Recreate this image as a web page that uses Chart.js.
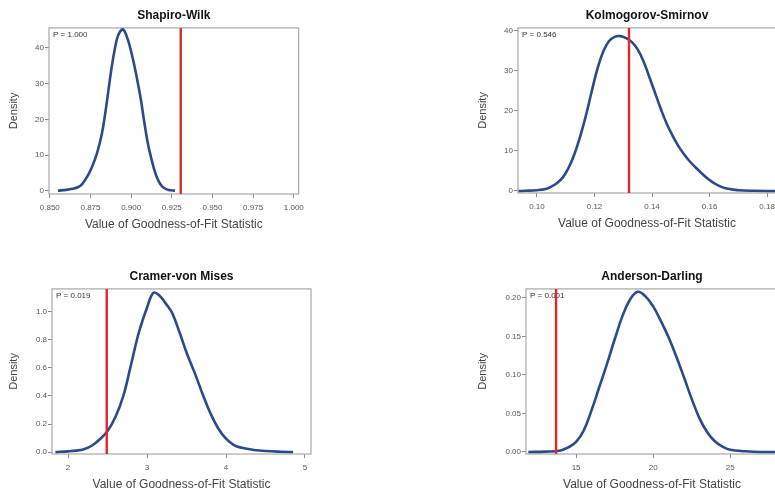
<!DOCTYPE html>
<html>
<head>
<meta charset="utf-8">
<script src="https://cdn.jsdelivr.net/npm/chart.js@4.4.0/dist/chart.umd.min.js"></script>
<style>
  html, body { margin: 0; padding: 0; background: #fff; overflow: hidden; }
  body { width: 775px; height: 496px; position: relative; }
  canvas { position: absolute; }
</style>
</head>
<body>
<canvas id="swChart" width="309" height="236" style="left:0px;top:0px"></canvas>
<canvas id="ksChart" width="313" height="235" style="left:469px;top:0px"></canvas>
<canvas id="cvmChart" width="317" height="235" style="left:0px;top:261px"></canvas>
<canvas id="adChart" width="315" height="235" style="left:469px;top:261px"></canvas>
<script>
// Shapiro-Wilk
const swX = [0.855, 0.860, 0.864, 0.8675, 0.870, 0.873, 0.876, 0.879, 0.882, 0.884, 0.886, 0.888, 0.890, 0.892, 0.8945,
  0.896, 0.898, 0.900, 0.902, 0.904, 0.906, 0.908, 0.910, 0.912, 0.914, 0.916, 0.918, 0.920, 0.923, 0.927];
const swY = [0.1, 0.3, 0.6, 1.1, 2.0, 4.0, 6.8, 10.5, 16.0, 21.5, 28.0, 34.5, 39.8, 43.5, 45.2,
  44.6, 42.3, 39.0, 35.0, 30.5, 25.5, 19.5, 14.0, 9.8, 6.3, 3.6, 1.9, 0.9, 0.3, 0.1];
const swTicksX = [0.85, 0.875, 0.9, 0.925, 0.95, 0.975, 1.0];
const swTicksY = [0, 10, 20, 30, 40];
const swObserved = 0.9305;
const swP = "P = 1.000";

// Kolmogorov-Smirnov
const ksX = [0.0936, 0.096, 0.100, 0.103, 0.105, 0.107, 0.109, 0.111, 0.113, 0.115, 0.117, 0.119, 0.121, 0.123, 0.125,
  0.127, 0.129, 0.131, 0.133, 0.135, 0.137, 0.139, 0.141, 0.143, 0.145, 0.147, 0.149, 0.151, 0.153, 0.155,
  0.157, 0.159, 0.161, 0.163, 0.166, 0.170, 0.175, 0.183];
const ksY = [0.0, 0.05, 0.2, 0.5, 1.1, 2.0, 3.4, 5.8, 9.2, 13.6, 18.8, 24.8, 30.5, 34.8, 37.4,
  38.5, 38.7, 38.2, 37.2, 35.4, 32.5, 28.6, 24.6, 20.6, 17.0, 14.0, 11.4, 9.3, 7.5, 6.0,
  4.6, 3.3, 2.2, 1.4, 0.6, 0.2, 0.05, 0.0];
const ksTicksX = [0.10, 0.12, 0.14, 0.16, 0.18];
const ksTicksY = [0, 10, 20, 30, 40];
const ksObserved = 0.132;
const ksP = "P = 0.546";

// Cramer-von Mises
const cvmX = [1.84, 2.0, 2.1, 2.2, 2.3, 2.4, 2.5, 2.6, 2.7, 2.8, 2.9, 3.0, 3.08, 3.15, 3.25, 3.32,
  3.42, 3.5, 3.6, 3.7, 3.8, 3.9, 4.0, 4.1, 4.2, 4.35, 4.5, 4.7, 4.85];
const cvmY = [0.0, 0.005, 0.01, 0.02, 0.045, 0.09, 0.15, 0.25, 0.40, 0.63, 0.86, 1.03, 1.135, 1.12, 1.05, 0.99,
  0.84, 0.71, 0.57, 0.42, 0.28, 0.17, 0.095, 0.05, 0.03, 0.015, 0.007, 0.002, 0.0];
const cvmTicksX = [2, 3, 4, 5];
const cvmTicksY = [0, 0.2, 0.4, 0.6, 0.8, 1.0];
const cvmObserved = 2.49;
const cvmP = "P = 0.019";

// Anderson-Darling
const adX = [11.9, 13.0, 14.0, 14.5, 15.0, 15.5, 16.0, 16.5, 17.0, 17.5, 18.0, 18.5, 19.0, 19.5, 20.0,
  20.5, 21.0, 21.5, 22.0, 22.5, 23.0, 23.5, 24.0, 24.5, 25.0, 26.0, 27.0, 28.1];
const adY = [0.0, 0.0005, 0.002, 0.006, 0.013, 0.028, 0.054, 0.084, 0.114, 0.146, 0.176, 0.198, 0.208, 0.202, 0.189,
  0.170, 0.149, 0.124, 0.097, 0.069, 0.044, 0.026, 0.014, 0.007, 0.003, 0.001, 0.0, 0.0];
const adTicksX = [15, 20, 25];
const adTicksY = [0, 0.05, 0.10, 0.15, 0.20];
const adObserved = 13.7;
const adP = "P = 0.001";

Chart.defaults.font.family = "'Liberation Sans', Arial, sans-serif";

const blue = "#2b4a8a";
const red = "#e3242b";

// box round the plot area and the P value in its corner
const framePlugin = {
  id: "frame",
  beforeDatasetsDraw(chart) {
    const { ctx, chartArea } = chart;
    ctx.save();
    ctx.strokeStyle = "#a8a8a8";
    ctx.lineWidth = 1.2;
    ctx.strokeRect(chartArea.left, chartArea.top, chartArea.right - chartArea.left, chartArea.bottom - chartArea.top);
    ctx.fillStyle = "#333";
    ctx.font = "8px 'Liberation Sans', Arial, sans-serif";
    ctx.textBaseline = "middle";
    ctx.fillText(chart.options.pText, chartArea.left + 4, chartArea.top + 7);
    ctx.restore();
  },
};

function makePanel(id, cfg) {
  const ctx = document.getElementById(id).getContext("2d");
  return new Chart(ctx, {
    type: "line",
    data: {
      datasets: [
        {
          data: [{ x: cfg.observed, y: cfg.yMin }, { x: cfg.observed, y: cfg.yMax }],
          borderColor: red,
          borderWidth: 2.4,
          pointRadius: 0,
        },
        {
          data: cfg.xs.map((x, i) => ({ x: x, y: cfg.ys[i] })),
          borderColor: blue,
          borderWidth: 2.6,
          pointRadius: 0,
          tension: 0.4,
        },
      ],
    },
    options: {
      responsive: false,
      animation: false,
      pText: cfg.pText,
      layout: { padding: { left: 0, right: 6, top: 0, bottom: 0 } },
      plugins: {
        legend: { display: false },
        tooltip: { enabled: false },
        title: {
          display: true,
          text: cfg.title,
          fullSize: false,
          color: "#111",
          font: { size: 12, weight: "bold" },
          padding: { top: 8.5, bottom: 5 },
        },
      },
      scales: {
        x: {
          type: "linear",
          min: cfg.xMin,
          max: cfg.xMax,
          afterBuildTicks: (s) => { s.ticks = cfg.xTicks.map((v) => ({ value: v })); },
          afterFit: (s) => { s.height = 42; },
          ticks: {
            callback: (v) => Number(v).toFixed(cfg.xDec),
            font: { size: 8 },
            color: "#555",
            padding: 5,
            maxRotation: 0,
            autoSkip: false,
          },
          grid: { drawOnChartArea: false, tickLength: 4, color: "#888" },
          border: { display: false },
          title: {
            display: true,
            text: "Value of Goodness-of-Fit Statistic",
            font: { size: 12 },
            color: "#444",
            padding: { top: 0, bottom: 4 },
          },
        },
        y: {
          min: cfg.yMin,
          max: cfg.yMax,
          afterBuildTicks: (s) => { s.ticks = cfg.yTicks.map((v) => ({ value: v })); },
          afterFit: (s) => { s.width = cfg.yWidth; },
          ticks: {
            callback: (v) => Number(v).toFixed(cfg.yDec),
            font: { size: 8 },
            color: "#555",
            padding: 1,
            autoSkip: false,
          },
          grid: { drawOnChartArea: false, tickLength: 4, color: "#888" },
          border: { display: false },
          title: {
            display: true,
            text: "Density",
            font: { size: 11 },
            color: "#444",
            padding: { top: 7.4, bottom: 0 },
          },
        },
      },
    },
    plugins: [framePlugin],
  });
}

makePanel("swChart", {
  title: "Shapiro-Wilk", xs: swX, ys: swY, xTicks: swTicksX, yTicks: swTicksY,
  observed: swObserved, pText: swP, xMin: 0.8495, xMax: 1.003, yMin: -0.85, yMax: 45.6,
  xDec: 3, yDec: 0, yWidth: 49,
});
makePanel("ksChart", {
  title: "Kolmogorov-Smirnov", xs: ksX, ys: ksY, xTicks: ksTicksX, yTicks: ksTicksY,
  observed: ksObserved, pText: ksP, xMin: 0.0934, xMax: 0.1831, yMin: -0.5, yMax: 40.75,
  xDec: 2, yDec: 0, yWidth: 49,
});
makePanel("cvmChart", {
  title: "Cramer-von Mises", xs: cvmX, ys: cvmY, xTicks: cvmTicksX, yTicks: cvmTicksY,
  observed: cvmObserved, pText: cvmP, xMin: 1.797, xMax: 5.076, yMin: -0.014, yMax: 1.164,
  xDec: 0, yDec: 1, yWidth: 52,
});
makePanel("adChart", {
  title: "Anderson-Darling", xs: adX, ys: adY, xTicks: adTicksX, yTicks: adTicksY,
  observed: adObserved, pText: adP, xMin: 11.75, xMax: 28.1, yMin: -0.0026, yMax: 0.2117,
  xDec: 0, yDec: 2, yWidth: 57,
});
</script>
</body>
</html>
